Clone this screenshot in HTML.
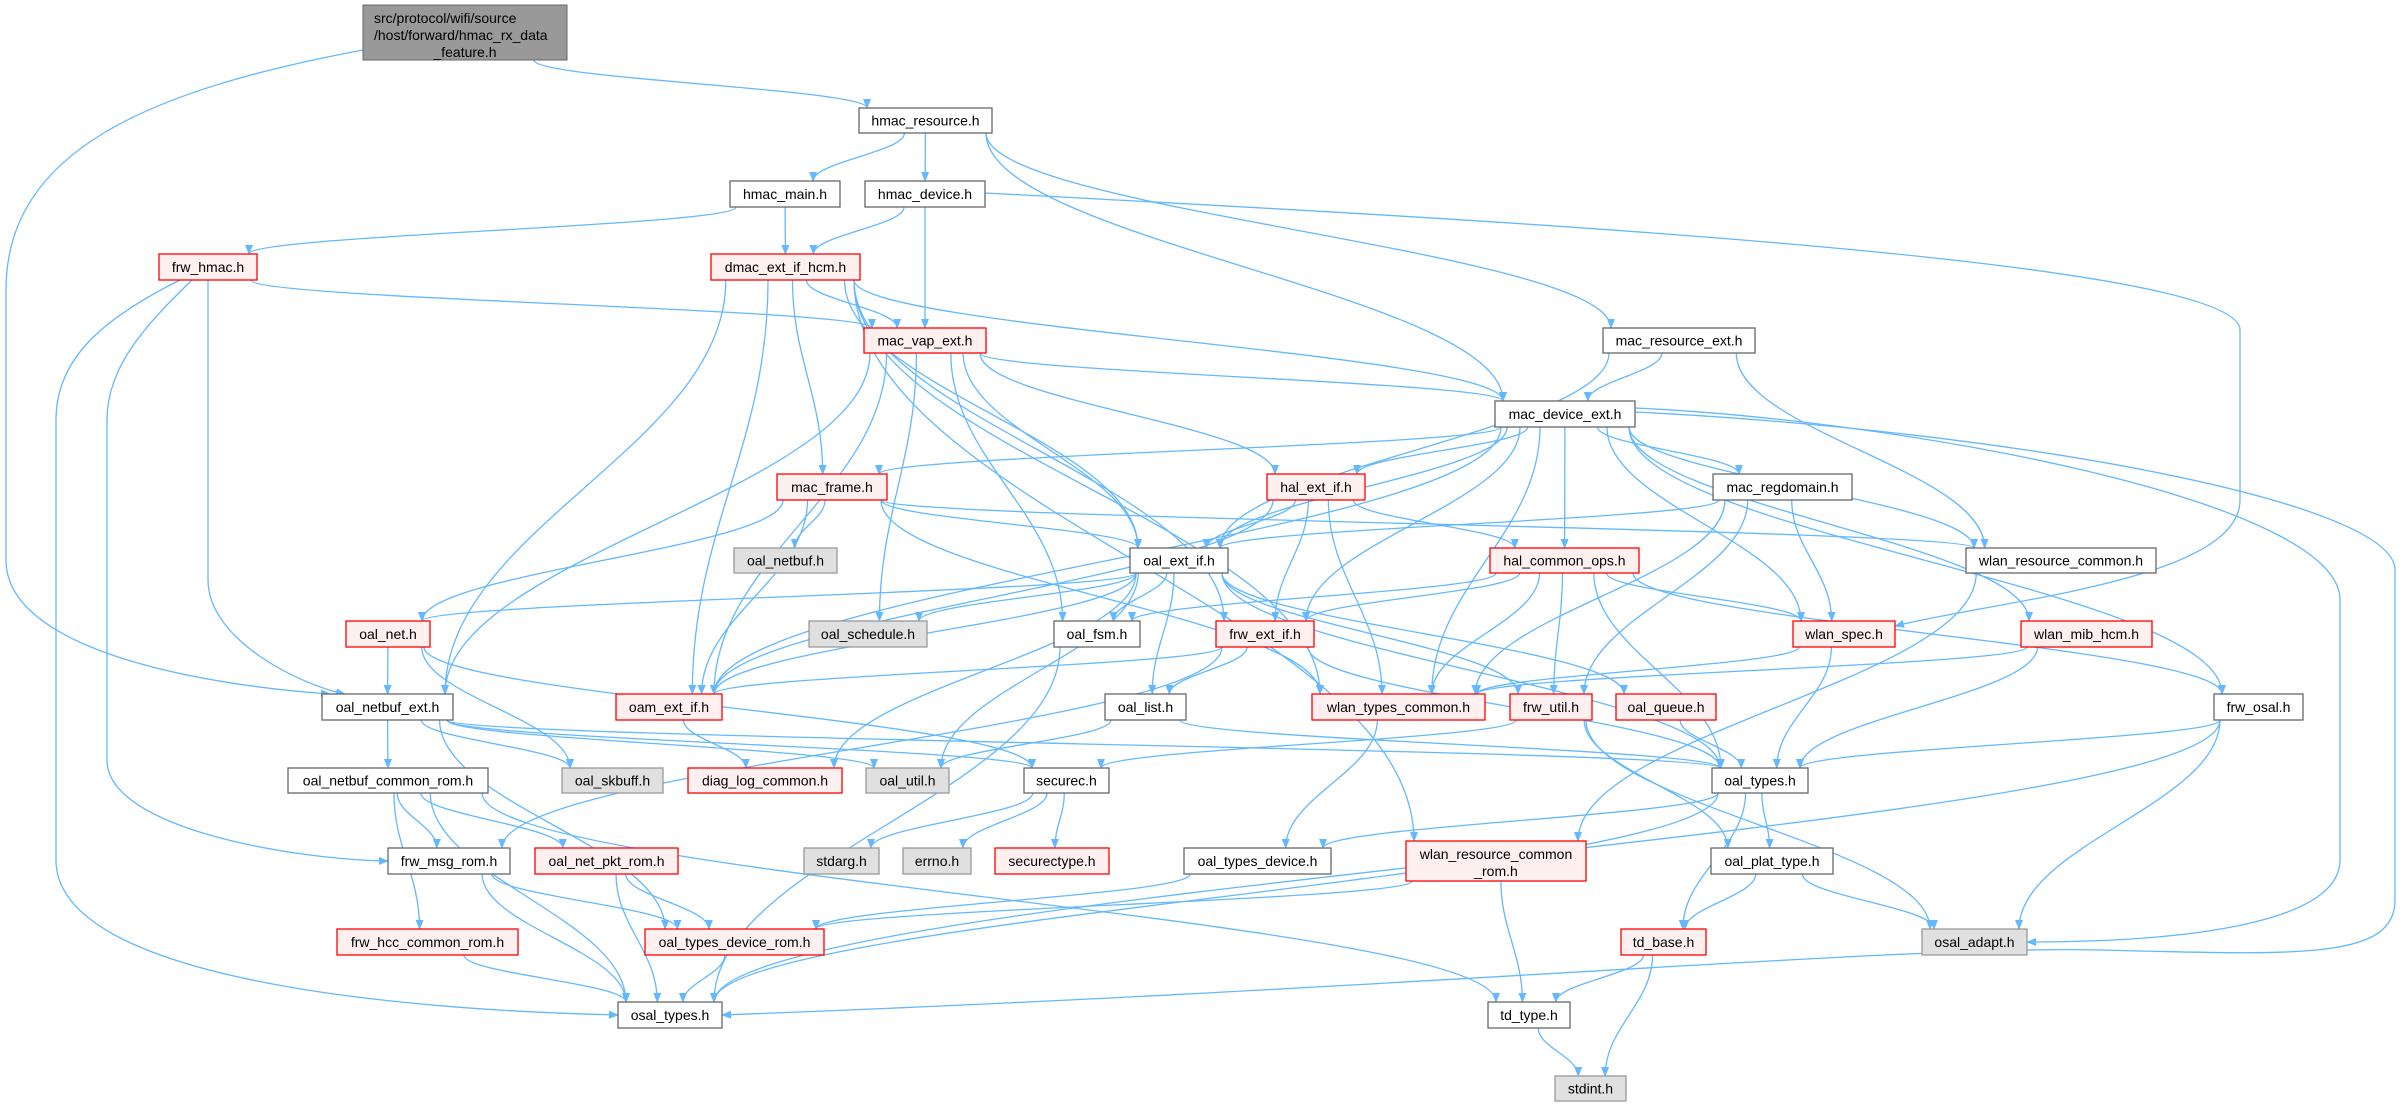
<!DOCTYPE html>
<html><head><meta charset="utf-8"><style>
html,body{margin:0;padding:0;background:#fff;}
svg{display:block;}
text{font-family:"Liberation Sans",sans-serif;font-size:14px;fill:#000;}
</style></head><body>
<svg id="s" width="2407" height="1107" viewBox="0 0 2407 1107" xmlns="http://www.w3.org/2000/svg">
<defs><marker id="a" markerWidth="10" markerHeight="8" refX="9" refY="4" orient="auto" markerUnits="userSpaceOnUse"><path d="M0,0 L10,4 L0,8 z" fill="#63b8ff"/></marker></defs>
<g id="edges" fill="none" stroke="#63b8ff" stroke-width="1.3"></g>
<g id="nodes">
<g id="root"><rect x="363" y="5" width="204" height="55" fill="#999" stroke="#666"/><text x="374" y="23">src/protocol/wifi/source</text><text x="374" y="40">/host/forward/hmac_rx_data</text><text x="465" y="57" text-anchor="middle">_feature.h</text></g>
<g id="hres"><rect x="859" y="108" width="133" height="25"/><text>hmac_resource.h</text></g>
<g id="hmain"><rect x="730" y="181" width="110" height="26"/><text>hmac_main.h</text></g>
<g id="hdev"><rect x="865" y="181" width="120" height="26"/><text>hmac_device.h</text></g>
<g id="frwh" class="r"><rect x="159" y="254" width="98" height="26"/><text>frw_hmac.h</text></g>
<g id="dmac" class="r"><rect x="711" y="254" width="149" height="26"/><text>dmac_ext_if_hcm.h</text></g>
<g id="vap" class="r"><rect x="864" y="328" width="122" height="25"/><text>mac_vap_ext.h</text></g>
<g id="mres"><rect x="1603" y="328" width="152" height="25"/><text>mac_resource_ext.h</text></g>
<g id="mdev"><rect x="1495" y="401" width="140" height="26"/><text>mac_device_ext.h</text></g>
<g id="mfr" class="r"><rect x="777" y="474" width="110" height="26"/><text>mac_frame.h</text></g>
<g id="hal" class="r"><rect x="1267" y="474" width="98" height="26"/><text>hal_ext_if.h</text></g>
<g id="reg"><rect x="1713" y="474" width="139" height="26"/><text>mac_regdomain.h</text></g>
<g id="nb" class="g"><rect x="734" y="548" width="103" height="25"/><text>oal_netbuf.h</text></g>
<g id="oext"><rect x="1130" y="548" width="98" height="25"/><text>oal_ext_if.h</text></g>
<g id="hco" class="r"><rect x="1490" y="548" width="149" height="25"/><text>hal_common_ops.h</text></g>
<g id="wrc"><rect x="1966" y="548" width="190" height="25"/><text>wlan_resource_common.h</text></g>
<g id="onet" class="r"><rect x="346" y="621" width="84" height="26"/><text>oal_net.h</text></g>
<g id="sch" class="g"><rect x="809" y="621" width="118" height="26"/><text>oal_schedule.h</text></g>
<g id="fsm"><rect x="1054" y="621" width="86" height="26"/><text>oal_fsm.h</text></g>
<g id="fext" class="r"><rect x="1216" y="621" width="98" height="26"/><text>frw_ext_if.h</text></g>
<g id="wspec" class="r"><rect x="1793" y="621" width="102" height="26"/><text>wlan_spec.h</text></g>
<g id="wmib" class="r"><rect x="2021" y="621" width="131" height="26"/><text>wlan_mib_hcm.h</text></g>
<g id="nbe"><rect x="322" y="694" width="131" height="26"/><text>oal_netbuf_ext.h</text></g>
<g id="oam" class="r"><rect x="616" y="694" width="106" height="26"/><text>oam_ext_if.h</text></g>
<g id="list"><rect x="1105" y="694" width="81" height="26"/><text>oal_list.h</text></g>
<g id="wtc" class="r"><rect x="1312" y="694" width="173" height="26"/><text>wlan_types_common.h</text></g>
<g id="futil" class="r"><rect x="1510" y="694" width="82" height="26"/><text>frw_util.h</text></g>
<g id="queue" class="r"><rect x="1616" y="694" width="100" height="26"/><text>oal_queue.h</text></g>
<g id="fosal"><rect x="2214" y="694" width="89" height="26"/><text>frw_osal.h</text></g>
<g id="ncr"><rect x="288" y="768" width="200" height="25"/><text>oal_netbuf_common_rom.h</text></g>
<g id="skb" class="g"><rect x="562" y="768" width="101" height="25"/><text>oal_skbuff.h</text></g>
<g id="diag" class="r"><rect x="688" y="768" width="154" height="25"/><text>diag_log_common.h</text></g>
<g id="util" class="g"><rect x="866" y="768" width="83" height="25"/><text>oal_util.h</text></g>
<g id="sec"><rect x="1024" y="768" width="85" height="25"/><text>securec.h</text></g>
<g id="otypes"><rect x="1712" y="768" width="96" height="25"/><text>oal_types.h</text></g>
<g id="msg"><rect x="388" y="848" width="122" height="26"/><text>frw_msg_rom.h</text></g>
<g id="pkt" class="r"><rect x="535" y="848" width="143" height="26"/><text>oal_net_pkt_rom.h</text></g>
<g id="stdarg" class="g"><rect x="804" y="848" width="75" height="26"/><text>stdarg.h</text></g>
<g id="errno" class="g"><rect x="903" y="848" width="68" height="26"/><text>errno.h</text></g>
<g id="sectype" class="r"><rect x="995" y="848" width="114" height="26"/><text>securectype.h</text></g>
<g id="otd"><rect x="1184" y="848" width="147" height="26"/><text>oal_types_device.h</text></g>
<g id="wrcr" class="r"><rect x="1406" y="841" width="180" height="40"/><text x="1496" y="859" text-anchor="middle">wlan_resource_common</text><text x="1496" y="876" text-anchor="middle">_rom.h</text></g>
<g id="plat"><rect x="1711" y="848" width="122" height="26"/><text>oal_plat_type.h</text></g>
<g id="hcc" class="r"><rect x="337" y="929" width="181" height="26"/><text>frw_hcc_common_rom.h</text></g>
<g id="otdr" class="r"><rect x="645" y="929" width="179" height="26"/><text>oal_types_device_rom.h</text></g>
<g id="tdb" class="r"><rect x="1621" y="929" width="85" height="26"/><text>td_base.h</text></g>
<g id="adapt" class="g"><rect x="1922" y="929" width="105" height="26"/><text>osal_adapt.h</text></g>
<g id="ostypes"><rect x="618" y="1002" width="104" height="26"/><text>osal_types.h</text></g>
<g id="tdt"><rect x="1488" y="1002" width="82" height="26"/><text>td_type.h</text></g>
<g id="stdint" class="g"><rect x="1555" y="1076" width="71" height="25"/><text>stdint.h</text></g>
</g>
</svg>
<script>
(function(){
var N={};
document.querySelectorAll('#nodes > g').forEach(function(g){
 var r=g.querySelector('rect');
 var x=+r.getAttribute('x'),y=+r.getAttribute('y'),w=+r.getAttribute('width'),h=+r.getAttribute('height');
 N[g.id]={x:x,y:y,w:w,h:h,cx:x+w/2};
 if(g.id!=='root'){
  var c=g.getAttribute('class');
  if(c==='r'){r.setAttribute('fill','#fff0f0');r.setAttribute('stroke','#ff0000');}
  else if(c==='g'){r.setAttribute('fill','#e0e0e0');r.setAttribute('stroke','#999');}
  else {r.setAttribute('fill','#fff');r.setAttribute('stroke','#666');}
  r.setAttribute('stroke-width','1.3');
  var ts=g.querySelectorAll('text');
  if(ts.length===1&&!ts[0].getAttribute('x')){ts[0].setAttribute('x',x+w/2);ts[0].setAttribute('y',y+h/2+5);ts[0].setAttribute('text-anchor','middle');}
 }
});
var C={
'root>nbe':'M363,50 C150,90 6,150 6,290 L6,560 C6,650 200,685 330,694',
'frwh>ostypes':'M180,280 C100,320 56,360 56,420 L56,860 C56,980 400,1010 618,1015',
'frwh>msg':'M192,280 C140,330 107,370 107,420 L107,760 C107,830 300,860 388,861',
'frwh>nbe':'M208,280 L208,580 C208,640 300,685 345,694',
'mdev>ostypes':'M1635,412 C2000,430 2395,500 2395,570 L2395,900 C2395,960 2300,955 2100,950 C1900,945 1400,990 722,1015',
'mdev>adapt':'M1635,408 C1900,420 2340,500 2340,600 L2340,860 C2340,920 2200,942 2027,942',
'hdev>wspec':'M985,193 C1500,220 2240,260 2240,330 L2240,500 C2240,580 2000,600 1895,626'
};
var E=[
['root','hres'],['root','nbe'],
['hres','hmain'],['hres','hdev'],['hres','mdev'],['hres','mres'],
['hmain','frwh'],['hmain','dmac'],
['hdev','dmac'],['hdev','vap'],['hdev','wspec'],
['frwh','vap'],['frwh','nbe'],['frwh','msg'],['frwh','ostypes'],
['dmac','vap'],['dmac','mfr'],['dmac','oext'],['dmac','mdev'],['dmac','nbe'],['dmac','oam'],['dmac','wtc'],['dmac','fext'],['dmac','wrcr'],
['vap','nbe'],['vap','oam'],['vap','sch'],['vap','fsm'],['vap','hal'],['vap','mdev'],['vap','oext'],
['mres','oext'],['mres','mdev'],['mres','wrc'],
['mdev','mfr'],['mdev','hal'],['mdev','oext'],['mdev','oam'],['mdev','hco'],['mdev','reg'],['mdev','wrc'],['mdev','wspec'],['mdev','wmib'],['mdev','fosal'],['mdev','fext'],['mdev','wtc'],['mdev','ostypes'],['mdev','adapt'],
['mfr','nb'],['mfr','onet'],['mfr','oext'],['mfr','oam'],['mfr','wtc'],['mfr','wrc'],
['hal','oext'],['hal','fext'],['hal','wtc'],['hal','hco'],['hal','oam'],
['reg','oext'],['reg','wspec'],['reg','wtc'],['reg','futil'],
['oext','onet'],['oext','sch'],['oext','fsm'],['oext','list'],['oext','futil'],['oext','queue'],['oext','otypes'],['oext','oam'],['oext','diag'],['oext','util'],
['hco','fsm'],['hco','fext'],['hco','wspec'],['hco','wtc'],['hco','futil'],['hco','otypes'],['hco','fosal'],
['wrc','wrcr'],
['onet','nbe'],['onet','skb'],['onet','sec'],
['fext','list'],['fext','oam'],['fext','otypes'],['fext','msg'],
['wspec','otypes'],['wspec','wtc'],
['wmib','otypes'],['wmib','wtc'],
['nbe','ncr'],['nbe','skb'],['nbe','sec'],['nbe','otypes'],['nbe','otdr'],['nbe','util'],
['oam','diag'],
['list','util'],['list','otypes'],
['fsm','ostypes'],
['wtc','otd'],
['futil','sec'],['futil','plat'],['futil','adapt'],
['queue','otypes'],
['fosal','otypes'],['fosal','adapt'],['fosal','ostypes'],
['ncr','msg'],['ncr','pkt'],['ncr','hcc'],['ncr','ostypes'],['ncr','tdt'],
['sec','stdarg'],['sec','errno'],['sec','sectype'],
['otypes','otd'],['otypes','plat'],['otypes','tdb'],['otypes','ostypes'],
['plat','tdb'],['plat','adapt'],
['msg','otdr'],['msg','ostypes'],
['pkt','otdr'],['pkt','ostypes'],
['hcc','ostypes'],
['otd','otdr'],
['wrcr','otdr'],['wrcr','tdt'],
['otdr','ostypes'],
['tdb','tdt'],['tdb','stdint'],
['tdt','stdint']
];
var g=document.getElementById('edges');
E.forEach(function(e){
 var a=N[e[0]],b=N[e[1]];if(!a||!b)return;
 var sx,sy,tx,ty,d=C[e[0]+'>'+e[1]];
 if(!d){
 if(b.y>a.y+a.h-2){
  sx=a.cx+Math.max(-a.w/2+6,Math.min(a.w/2-6,(b.cx-a.cx)*0.15));sy=a.y+a.h;
  tx=b.cx+Math.max(-b.w/2+8,Math.min(b.w/2-8,(a.cx-b.cx)*0.2));ty=b.y;
  var dy=ty-sy;
  d='M'+sx+','+sy+' C'+sx+','+(sy+dy*0.4)+' '+tx+','+(ty-dy*0.4)+' '+tx+','+ty;
 } else {
  sy=a.y+a.h/2;ty=b.y+b.h/2;
  if(b.cx>a.cx){sx=a.x+a.w;tx=b.x;}else{sx=a.x;tx=b.x+b.w;}
  d='M'+sx+','+sy+' C'+((sx+tx)/2)+','+sy+' '+((sx+tx)/2)+','+ty+' '+tx+','+ty;
 }}
 var p=document.createElementNS('http://www.w3.org/2000/svg','path');
 p.setAttribute('d',d);p.setAttribute('marker-end','url(#a)');g.appendChild(p);
});
})();
</script>
</body></html>
